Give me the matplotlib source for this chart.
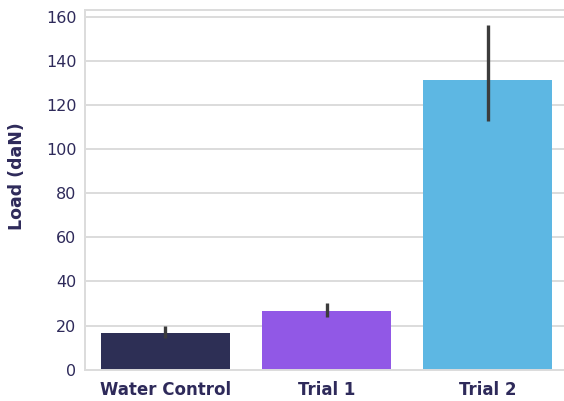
import matplotlib
matplotlib.use("Agg")
import matplotlib.pyplot as plt
import numpy as np

# Mean load per group with confidence interval bounds
groups = ["Water Control", "Trial 1", "Trial 2"]
load_mean = [16.8, 26.8, 131.2]
ci_low = [14.3, 24.1, 112.9]
ci_high = [20.0, 30.1, 156.2]
bar_colors = ["#2d2f55", "#9158e6", "#5db7e3"]

text_color = "#2e2a5a"
grid_color = "#dcdcdc"
font = "DejaVu Sans"

fig = plt.figure(figsize=(5.64, 4.01), dpi=100)
ax = fig.add_axes([0.150, 0.078, 0.858, 0.897])

x = np.arange(len(groups))
mean = np.array(load_mean)
yerr = np.vstack([mean - np.array(ci_low), np.array(ci_high) - mean])

ax.bar(x, mean, width=0.8, color=bar_colors, zorder=2)
ax.errorbar(x, mean, yerr=yerr, fmt="none", ecolor="#3c3c3c",
            elinewidth=2.4, capsize=0, zorder=3)

ax.set_xlim(-0.5, 2.5)
ax.set_ylim(0, 163)
ax.set_yticks(np.arange(0, 161, 20))
ax.set_xticks(x)
ax.set_xticklabels(groups, fontsize=12, fontweight="bold", color=text_color,
                   family=font)
for lbl in ax.get_yticklabels():
    lbl.set_fontsize(11.5)
    lbl.set_color(text_color)
    lbl.set_family(font)
ax.tick_params(axis="x", length=0, pad=8)
ax.tick_params(axis="y", length=0, pad=6)

ax.set_ylabel("Load (daN)", fontsize=12.5, fontweight="bold", color=text_color,
              family=font)
ax.yaxis.set_label_coords(-0.122, 0.537)

ax.yaxis.grid(True, color=grid_color, linewidth=1.4, zorder=0)
ax.set_axisbelow(True)
for side in ax.spines.values():
    side.set_color(grid_color)
    side.set_linewidth(1.4)

fig.savefig("out.png", dpi=100)
